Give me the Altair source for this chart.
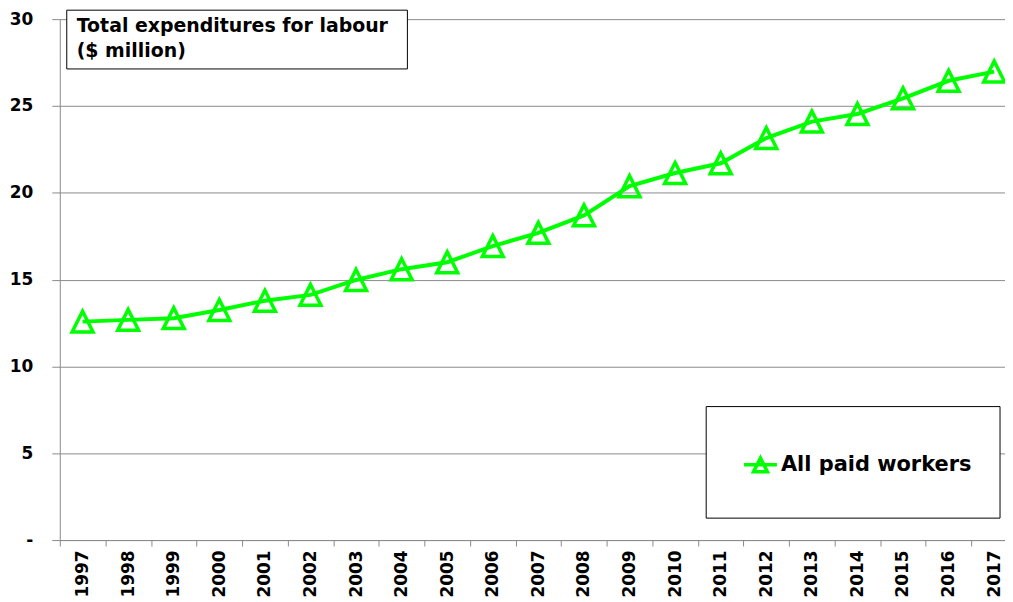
import altair as alt
import pandas as pd

years = [str(y) for y in range(1997, 2018)]
values = [12.58, 12.68, 12.78, 13.25, 13.78, 14.12, 14.98, 15.6, 16.0, 16.93,
          17.69, 18.70, 20.38, 21.14, 21.7, 23.15, 24.1, 24.54, 25.44, 26.45, 26.98]
series_name = "All paid workers"
title_lines = ["Total expenditures for labour", "($ million)"]
y_ticks = [0, 5, 10, 15, 20, 25, 30]

GREEN = "#00ff00"
GRAY = "#8a8a8a"
FONT = "DejaVu Sans"

df = pd.DataFrame({"year": years, "value": values, "series": series_name})
title_df = pd.DataFrame({"text": [title_lines]})

xenc = alt.X(
    "year:O",
    scale=alt.Scale(type="band", range=[0, 961], paddingInner=0, paddingOuter=0),
    bandPosition=0.5,
    axis=alt.Axis(
        title=None, labelAngle=270, labelAlign="right", labelBaseline="middle",
        labelFont=FONT, labelFontWeight="bold", labelFontSize=17, labelColor="black",
        tickBand="extent", tickSize=6, tickColor=GRAY, domainColor=GRAY,
        labelPadding=4, grid=False,
    ),
)
yenc = alt.Y(
    "value:Q",
    scale=alt.Scale(domain=[0, 30], nice=False, zero=True),
    axis=alt.Axis(
        title=None, values=y_ticks,
        labelExpr="datum.value === 0 ? '-' : datum.label",
        labelFont=FONT, labelFontWeight="bold", labelFontSize=17, labelColor="black",
        tickSize=8, tickColor=GRAY, domainColor=GRAY, labelPadding=19,
        grid=True, gridColor=GRAY, gridWidth=1,
    ),
)

line = alt.Chart(df).mark_line(strokeWidth=4).encode(
    x=xenc, y=yenc,
    color=alt.Color(
        "series:N",
        scale=alt.Scale(domain=[series_name], range=[GREEN]),
        legend=alt.Legend(
            title=None, orient="none", legendX=685, legendY=429, padding=0,
            symbolType="M-1,0L1,0M0,-0.42L0.42,0.42L-0.42,0.42Z",
            symbolSize=1089, symbolStrokeWidth=3.5, symbolFillColor="transparent",
            labelFont=FONT, labelFontWeight="bold", labelFontSize=21,
            labelColor="black", labelOffset=2, labelLimit=400,
        ),
    ),
)

points = alt.Chart(df).mark_point(
    shape="M0,-1L1,1L-1,1Z", size=441, filled=False, strokeWidth=3.5, color=GREEN, opacity=1
).encode(x=xenc, y=yenc)

legend_box = alt.Chart(df.head(1)).mark_rect(
    fill="white", stroke="black", strokeWidth=1
).encode(x=alt.value(649), x2=alt.value(944), y=alt.value(389), y2=alt.value(501))

title_box = alt.Chart(df.head(1)).mark_rect(
    fill="white", stroke="black", strokeWidth=1
).encode(x=alt.value(7), x2=alt.value(349), y=alt.value(-9), y2=alt.value(50))

title_text = alt.Chart(title_df).mark_text(
    align="left", baseline="alphabetic", font=FONT, fontWeight="bold",
    fontSize=19, color="black", lineHeight=25.5
).encode(text="text:N", x=alt.value(17), y=alt.value(13))

chart = alt.layer(legend_box, line, points, title_box, title_text).properties(
    width=945, height=523,
    padding={"left": 52, "top": 10, "right": 4, "bottom": 58},
    autosize=alt.AutoSizeParams(type="none"),
).configure_view(strokeWidth=0)

chart.save("out.html", embed_options={"renderer": "svg", "actions": False})
